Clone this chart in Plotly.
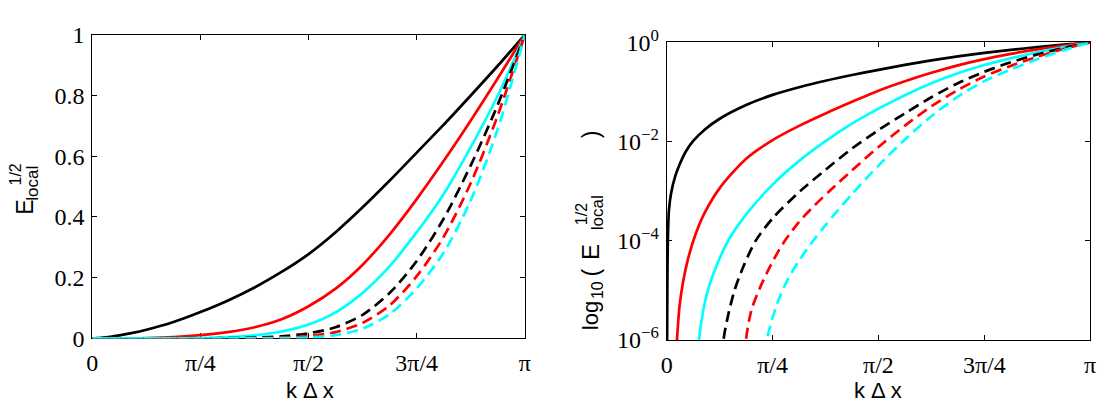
import numpy as np
import plotly.graph_objects as go

W, H = 1110, 412

# k*dx / pi  and  E^{1/2}_local  for each of the six curves
k_black = [0, 0.0004, 0.0008, 0.0013, 0.0025, 0.005, 0.01, 0.02, 0.03, 0.045, 0.0625, 0.09,
           0.125, 0.1875, 0.25, 0.3125, 0.375, 0.4375, 0.5, 0.5625, 0.625, 0.6875, 0.75,
           0.8125, 0.875, 0.9375, 1.0]
E_black = [0, 1e-7, 1e-6, 1e-5, 1e-4, 4.0e-4, 8.9e-4, 2.0e-3, 3.4e-3, 6.3e-3, 1.03e-2, 1.75e-2,
           2.88e-2, 5.43e-2, 8.71e-2, 0.1245, 0.168, 0.219, 0.278, 0.350, 0.432, 0.520, 0.612,
           0.704, 0.800, 0.898, 1.0]

k_red = [0, 0.02, 0.0245, 0.03, 0.038, 0.05, 0.068, 0.09, 0.125, 0.1875, 0.25, 0.3125, 0.375,
         0.4375, 0.5, 0.5625, 0.625, 0.6875, 0.75, 0.8125, 0.875, 0.9375, 1.0]
E_red = [0, 3.2e-7, 1.15e-6, 4.7e-6, 1.41e-5, 4.27e-5, 1.35e-4, 3.72e-4, 1.15e-3, 4.51e-3, 1.07e-2,
         2.07e-2, 3.68e-2, 6.31e-2, 0.106, 0.164, 0.243, 0.343, 0.459, 0.585, 0.718, 0.857, 1.0]

k_cyan = [0, 0.07, 0.076, 0.085, 0.097, 0.118, 0.145, 0.1875, 0.25, 0.3125, 0.375, 0.4375, 0.5,
          0.5625, 0.625, 0.6875, 0.75, 0.8125, 0.875, 0.9375, 1.0]
E_cyan = [0, 1e-7, 1e-6, 3.5e-6, 1e-5, 3.2e-5, 1e-4, 3.39e-4, 1.35e-3, 4.07e-3, 1.02e-2, 2.29e-2,
          4.6e-2, 8.6e-2, 0.150, 0.238, 0.350, 0.476, 0.630, 0.800, 1.0]

k_black_d = [0, 0.128, 0.134, 0.145, 0.16, 0.182, 0.21, 0.25, 0.315, 0.375, 0.4375, 0.5,
             0.5625, 0.625, 0.6875, 0.75, 0.8125, 0.875, 0.9375, 1.0]
E_black_d = [0, 1e-7, 1e-6, 3.16e-6, 1e-5, 3.16e-5, 1e-4, 2.82e-4, 1e-3, 2.69e-3, 7.24e-3, 1.70e-2,
             3.70e-2, 7.80e-2, 0.150, 0.255, 0.395, 0.570, 0.770, 1.0]

k_red_d = [0, 0.18, 0.187, 0.2, 0.22, 0.245, 0.275, 0.3125, 0.35, 0.387, 0.4375, 0.5, 0.5625,
           0.625, 0.6875, 0.75, 0.8125, 0.875, 0.9375, 1.0]
E_red_d = [0, 1e-7, 1e-6, 4.0e-6, 1.12e-5, 3.16e-5, 8.9e-5, 2.4e-4, 5.25e-4, 1.05e-3, 2.63e-3,
           7.76e-3, 2.09e-2, 5.13e-2, 0.109, 0.205, 0.335, 0.512, 0.735, 1.0]

k_cyan_d = [0, 0.225, 0.2336, 0.245, 0.26, 0.28, 0.31, 0.344, 0.375, 0.4375, 0.5, 0.5625, 0.625,
            0.6875, 0.75, 0.8125, 0.875, 0.9375, 1.0]
E_cyan_d = [0, 2.5e-7, 7.9e-7, 2.0e-6, 5.2e-6, 1.32e-5, 3.7e-5, 9.5e-5, 2.07e-4, 8.7e-4, 3.27e-3,
            1.10e-2, 3.24e-2, 8.0e-2, 0.165, 0.283, 0.455, 0.690, 1.0]

x_tick_vals = [0, 0.25, 0.5, 0.75, 1.0]
x_tick_text = ["0", "\u03c0/4", "\u03c0/2", "3\u03c0/4", "\u03c0"]
y_lin_ticks = [0, 0.2, 0.4, 0.6, 0.8, 1.0]
y_lin_text = ["0", "0.2", "0.4", "0.6", "0.8", "1"]
y_log_ticks = [1e-6, 1e-4, 1e-2, 1.0]
y_log_text = ["10<sup>\u22126</sup>", "10<sup>\u22124</sup>", "10<sup>\u22122</sup>", "10<sup>0</sup>"]

curves = [
    (k_black, E_black, "#000000", "solid"),
    (k_red, E_red, "#ff0000", "solid"),
    (k_cyan, E_cyan, "#00ffff", "solid"),
    (k_black_d, E_black_d, "#000000", "11px,6px"),
    (k_red_d, E_red_d, "#ff0000", "11px,6px"),
    (k_cyan_d, E_cyan_d, "#00ffff", "11px,6px"),
]

fig = go.Figure()
for xa, ya in (("x", "y"), ("x2", "y2")):
    for k, E, col, dash in curves:
        x = [np.pi * v for v in k]
        y = list(E)
        if ya == "y2":
            x = x[1:]
            y = y[1:]
        fig.add_trace(go.Scatter(
            x=x, y=y, mode="lines", xaxis=xa, yaxis=ya, showlegend=False,
            line=dict(color=col, width=2.7, dash=dash, shape="spline", smoothing=0.8),
            hoverinfo="skip"))


def px(xp):
    return xp / W


def py(yp):
    return 1 - yp / H


SERIF = "Liberation Serif, Times New Roman, serif"
SANS = "Liberation Sans, Arial, sans-serif"

tickfont = dict(family=SERIF, size=24, color="black")
common = dict(showline=True, linecolor="black", linewidth=1, mirror="ticks", ticks="inside",
              ticklen=5, tickwidth=1, tickcolor="black", showgrid=False, zeroline=False,
              tickfont=tickfont, layer="below traces")

fig.update_layout(
    width=W, height=H, autosize=False,
    font=dict(family=SERIF, size=24, color="black"),
    margin=dict(l=0, r=0, t=0, b=0),
    paper_bgcolor="white", plot_bgcolor="white",
    xaxis=dict(domain=[px(87.3), px(524.5)], anchor="y", range=[0, np.pi],
               tickvals=[np.pi * v for v in x_tick_vals], ticktext=x_tick_text,
               ticklabelstandoff=3, **common),
    yaxis=dict(domain=[py(346.7), py(19.2)], anchor="x", range=[0, 1],
               tickvals=y_lin_ticks, ticktext=y_lin_text, ticklabelstandoff=2, **common),
    xaxis2=dict(domain=[px(668), px(1096)], anchor="y2", range=[0, np.pi],
                tickvals=[np.pi * v for v in x_tick_vals], ticktext=x_tick_text,
                ticklabelstandoff=3, **common),
    yaxis2=dict(domain=[py(348.3), py(27.3)], anchor="x2", type="log", range=[-6, 0],
                tickvals=y_log_ticks, ticktext=y_log_text, ticklabelstandoff=2, **common),
)


def ann(text, xp, yp, size, angle=0):
    fig.add_annotation(text=text, x=px(xp), y=py(yp), xref="paper", yref="paper",
                       showarrow=False, xanchor="center", yanchor="middle", textangle=angle,
                       borderpad=0, font=dict(family=SANS, size=size, color="black"))


# x-axis titles
ann("k \u0394 x", 307, 403, 22)
ann("k \u0394 x", 882, 403, 22)

# left y-axis title  E^{1/2}_{local}
ann("E", 19, 205, 23, -90)
ann("1/2", 10, 170, 16, -90)
ann("local", 27, 179, 17, -90)

# right y-axis title  log_{10}(E^{1/2}_{local} )
ann("log", 591, 322, 22, -90)
ann("10", 598, 295, 16, -90)
ann("(", 591, 276, 23, -90)
ann("E", 591, 254, 24, -90)
ann("1/2", 582, 213, 16, -90)
ann("local", 598, 211, 17, -90)
ann(")", 591, 127, 23, -90)

fig.write_html("out.html")
